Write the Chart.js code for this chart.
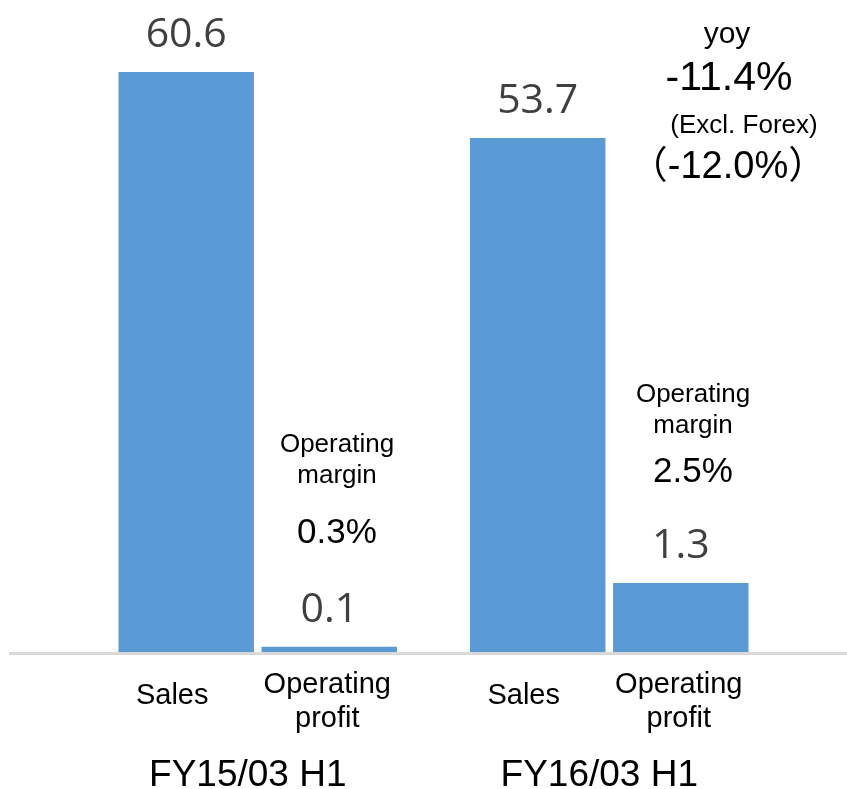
<!DOCTYPE html>
<html>
<head>
<meta charset="utf-8">
<script src="https://cdn.jsdelivr.net/npm/chart.js@4/dist/chart.umd.min.js"></script>
<style>
  body { margin: 0; background: #fff; }
  canvas { display: block; }
</style>
</head>
<body>
<canvas id="chart" width="847" height="789"></canvas>
<script>
// chart values
const groups = ["FY15/03 H1", "FY16/03 H1"];
const salesValues = [60.6, 53.7];
const profitValues = [0.1, 1.3];
const barNames = ["Sales", ["Operating", "profit"]];
const marginTitle = ["Operating", "margin"];
const marginValues = ["0.3%", "2.5%"];
const yoyLines = ["yoy", "-11.4%", "(Excl. Forex)", "（-12.0%）"];

const BLUE = "#5b9bd5";
const SANS = "'Liberation Sans', Arial, 'Noto Sans CJK JP', sans-serif";

// where the free text boxes sit
const marginPos = [
  { x: 337, y: [452, 483, 543] },
  { x: 693, y: [402, 433, 482] }
];
const yoyPos = [
  { x: 727, y: 43, size: 30 },
  { x: 729, y: 90, size: 41 },
  { x: 744, y: 133, size: 26 },
  { x: 728, y: 178, size: 38 }
];

function text(ctx, str, x, y, size, color, family) {
  ctx.font = size + "px " + (family || SANS);
  ctx.fillStyle = color || "#000";
  ctx.textAlign = "center";
  ctx.textBaseline = "alphabetic";
  ctx.fillText(str, x, y);
}

const labelsPlugin = {
  id: "labels",
  afterDatasetsDraw(chart) {
    const ctx = chart.ctx;
    const bottom = chart.chartArea.bottom;
    ctx.save();

    // horizontal axis line
    ctx.strokeStyle = "#d9d9d9";
    ctx.lineWidth = 3;
    ctx.beginPath();
    ctx.moveTo(9, bottom + 1.5);
    ctx.lineTo(847, bottom + 1.5);
    ctx.stroke();

    chart.data.datasets.forEach((ds, di) => {
      const meta = chart.getDatasetMeta(di);
      meta.data.forEach((bar, i) => {
        // value above bar
        text(ctx, ds.data[i].toFixed(1), bar.x, bar.y - 25, 41, "#404040", "'Open Sans', sans-serif");
        // name under bar
        const name = barNames[di];
        const dx = di === 0 ? -14 : -2;
        if (Array.isArray(name)) {
          name.forEach((ln, k) => text(ctx, ln, bar.x + dx, bottom + 41 + k * 34, 29));
        } else {
          text(ctx, name, bar.x + dx, bottom + 52, 29);
        }
      });
    });

    // operating margin notes
    marginValues.forEach((v, i) => {
      const p = marginPos[i];
      text(ctx, marginTitle[0], p.x, p.y[0], 26);
      text(ctx, marginTitle[1], p.x, p.y[1], 26);
      text(ctx, v, p.x, p.y[2], 35);
    });

    // yoy block
    yoyLines.forEach((ln, i) => {
      const p = yoyPos[i];
      text(ctx, ln, p.x, p.y, p.size);
    });

    ctx.restore();
  }
};

new Chart(document.getElementById("chart"), {
  type: "bar",
  data: {
    labels: groups,
    datasets: [
      {
        label: "Sales",
        data: salesValues,
        backgroundColor: BLUE,
        borderWidth: 0,
        yAxisID: "y"
      },
      {
        label: "Operating profit",
        data: profitValues,
        backgroundColor: BLUE,
        borderWidth: 0,
        yAxisID: "y1"
      }
    ]
  },
  options: {
    responsive: false,
    animation: false,
    categoryPercentage: 0.814,
    barPercentage: 0.947,
    layout: { padding: { left: 82, right: 62, top: 0, bottom: 0 } },
    plugins: {
      legend: { display: false },
      tooltip: { enabled: false }
    },
    scales: {
      x: {
        grid: { display: false },
        border: { display: false },
        ticks: {
          color: "#000",
          font: { family: SANS, size: 37 },
          padding: 94,
          labelOffset: -10
        },
        afterFit: (scale) => { scale.height = 137; }
      },
      y: { display: false, min: 0, max: 68.12 },
      y1: { display: false, min: 0, max: 12.3 }
    }
  },
  plugins: [labelsPlugin]
});
</script>
</body>
</html>
